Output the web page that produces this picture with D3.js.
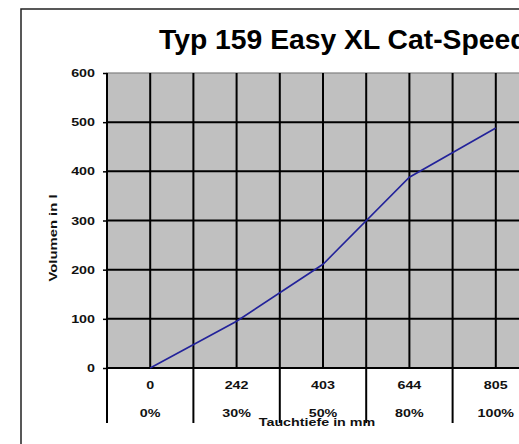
<!DOCTYPE html>
<html><head><meta charset="utf-8">
<script src="https://cdn.jsdelivr.net/npm/d3@7"></script>
<style>
html,body{margin:0;padding:0;background:#fff;overflow:hidden}
svg{display:block}
text{font-family:"Liberation Sans",Arial,sans-serif}
</style></head>
<body>
<svg id="c" width="519" height="444"></svg>
<script>
const title = "Typ 159 Easy XL Cat-Speed";
const categories = ["0","242","403","644","805"];
const percentLabels = ["0%","30%","50%","80%","100%"];
const volume = [0, 95, 211, 388, 488];
const yTicks = [0,100,200,300,400,500,600];
const yTitle = "Volumen in l";
const xTitle = "Tauchtiefe in mm";

const svg = d3.select("#c");
const pL = 107, pR = 539, pT = 73, pB = 368;
const SX = 1.3, FS = 11;

const x = d3.scaleBand().domain(categories).range([pL, pR]);
const y = d3.scaleLinear().domain([0, 600]).range([pB, pT]);
const cx = c => x(c) + x.bandwidth()/2;

// outer frame
svg.append("rect").attr("x",21).attr("y",9).attr("width",600).attr("height",600)
  .attr("fill","#fff").attr("stroke","#222").attr("stroke-width",1.5);

// title
svg.append("text").attr("x",159).attr("y",49).attr("font-size",28.3).attr("font-weight","bold")
  .attr("fill","#000").text(title);

// plot area
svg.append("rect").attr("x",pL).attr("y",pT).attr("width",pR-pL).attr("height",pB-pT)
  .attr("fill","#c0c0c0").attr("stroke","#808080").attr("stroke-width",1.2);

const g = svg.append("g");
g.selectAll(".hg").data(yTicks.filter(t=>t>0 && t<600)).join("line")
  .attr("x1",pL).attr("x2",pR).attr("y1",d=>y(d)).attr("y2",d=>y(d))
  .attr("stroke","#000").attr("stroke-width",2);
const vpos = [];
categories.forEach(c => { vpos.push(x(c)); vpos.push(cx(c)); });
vpos.push(pR);
g.selectAll(".vg").data(vpos.filter(v=>v>pL)).join("line")
  .attr("x1",d=>d).attr("x2",d=>d).attr("y1",pT).attr("y2",pB)
  .attr("stroke","#000").attr("stroke-width",2);

g.selectAll(".sep").data(categories.map(c=>x(c)).concat([pR])).join("line")
  .attr("x1",d=>d).attr("x2",d=>d).attr("y1",pB).attr("y2",423)
  .attr("stroke","#000").attr("stroke-width",2);
g.append("line").attr("x1",pL).attr("x2",pR).attr("y1",pB).attr("y2",pB)
  .attr("stroke","#000").attr("stroke-width",2);

// y axis
const ya = svg.append("g").attr("transform",`translate(${pL},0)`)
  .call(d3.axisLeft(y).tickValues(yTicks).tickSize(4).tickPadding(8));
ya.select(".domain").remove();
ya.selectAll(".tick line").attr("stroke","#000").attr("stroke-width",1.5);
ya.selectAll(".tick text")
  .attr("x", -12/SX).attr("transform",`scale(${SX},1)`)
  .attr("font-size",FS).attr("font-weight","bold")
  .attr("font-family","Liberation Sans, Arial, sans-serif").attr("fill","#111");
svg.append("line").attr("x1",pL).attr("x2",pL).attr("y1",pT).attr("y2",423)
  .attr("stroke","#000").attr("stroke-width",2);

// category rows
svg.selectAll(".cat").data(categories).join("text")
  .attr("transform",d=>`translate(${cx(d)},389) scale(${SX},1)`).attr("text-anchor","middle")
  .attr("font-size",FS).attr("font-weight","bold").attr("fill","#111").text(d=>d);
svg.selectAll(".pct").data(categories).join("text")
  .attr("transform",d=>`translate(${cx(d)},417) scale(${SX},1)`).attr("text-anchor","middle")
  .attr("font-size",FS).attr("font-weight","bold").attr("fill","#111")
  .text((d,i)=>percentLabels[i]);

// axis titles
svg.append("text").attr("transform",`translate(317,426) scale(${SX},1)`).attr("text-anchor","middle")
  .attr("font-size",FS).attr("font-weight","bold").attr("fill","#111").text(xTitle);
svg.append("text").attr("transform","translate(57,238) rotate(-90) scale(1.35,1)").attr("text-anchor","middle")
  .attr("font-size",FS).attr("font-weight","bold").attr("fill","#111").text(yTitle);

// data line
svg.append("path").datum(volume)
  .attr("fill","none").attr("stroke","#22229a").attr("stroke-width",1.6)
  .attr("d", d3.line().x((d,i)=>cx(categories[i])).y(d=>y(d)));
</script>
</body></html>
